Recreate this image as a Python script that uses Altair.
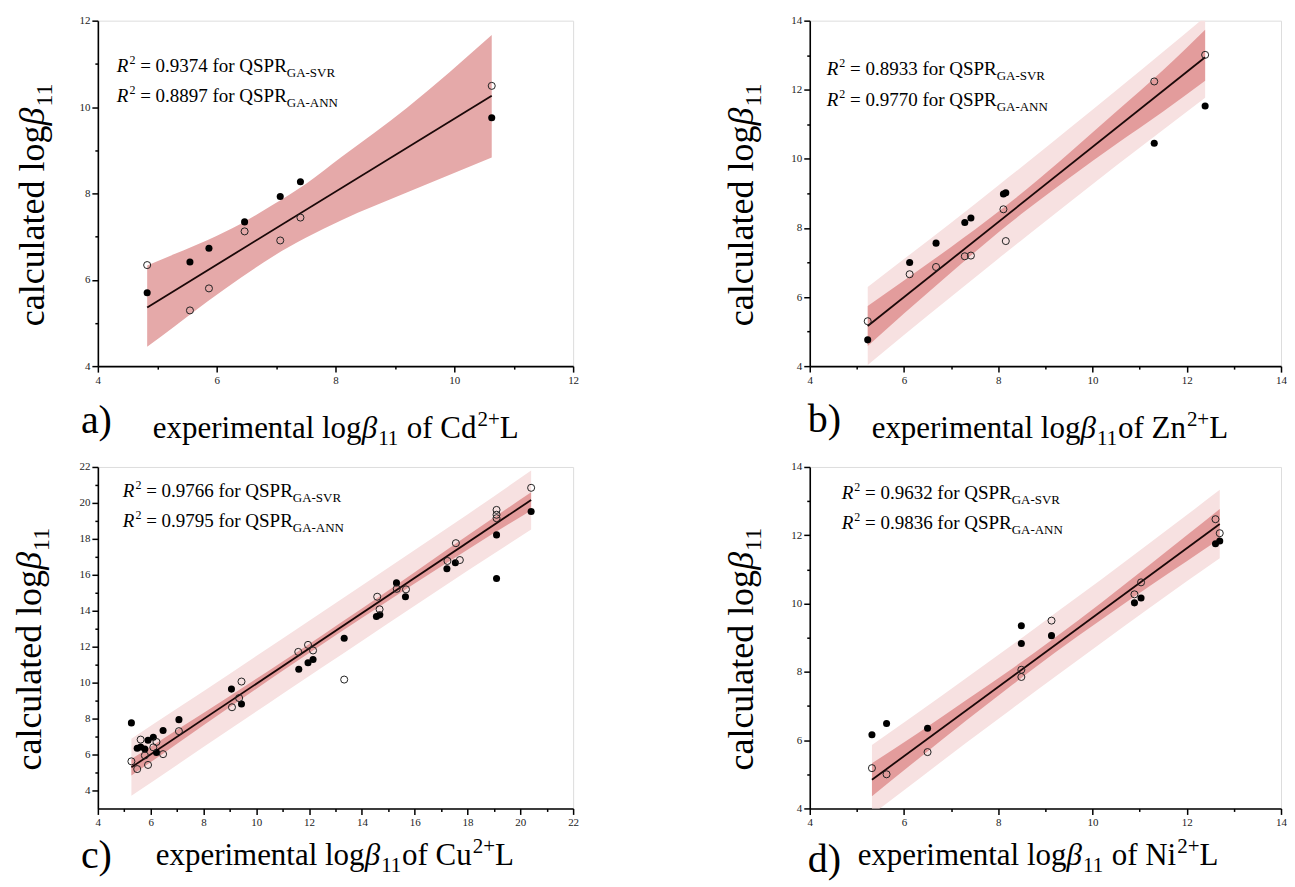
import altair as alt
import pandas as pd

# ---------------- data ----------------
# a) Cd2+
a_open_x = [4.83, 5.55, 5.87, 6.47, 7.07, 7.41, 10.63]
a_open_y = [6.34, 5.29, 5.80, 7.12, 6.91, 7.44, 10.49]
a_fill_x = [4.83, 5.55, 5.87, 6.47, 7.07, 7.41, 10.63]
a_fill_y = [5.70, 6.41, 6.73, 7.34, 7.93, 8.27, 9.75]
a_band_x = [4.83, 5.3, 5.85, 6.4, 6.96, 7.5, 8.1, 9.2, 10.63]
a_band_lo = [4.45, 4.93, 5.50, 6.04, 6.55, 6.97, 7.38, 8.02, 8.83]
a_band_hi = [6.33, 6.60, 6.92, 7.29, 7.75, 8.22, 8.84, 9.98, 11.67]
a_fit_x = [4.83, 10.63]
a_fit_y = [5.36, 10.26]

# b) Zn2+
b_open_x = [5.23, 6.12, 6.68, 7.29, 7.42, 8.11, 8.16, 11.31, 12.39]
b_open_y = [5.30, 6.66, 6.87, 7.18, 7.20, 8.54, 7.62, 12.24, 13.01]
b_fill_x = [5.23, 6.12, 6.68, 7.29, 7.42, 8.11, 8.16, 11.31, 12.39]
b_fill_y = [4.76, 7.00, 7.56, 8.16, 8.29, 8.98, 9.02, 10.45, 11.53]
b_band_x = [5.23, 6.0, 7.0, 8.0, 8.6, 9.5, 10.5, 11.5, 12.39]
b_dark_lo = [4.58, 5.52, 6.71, 7.87, 8.52, 9.44, 10.42, 11.37, 12.26]
b_dark_hi = [5.74, 6.48, 7.45, 8.47, 9.12, 10.16, 11.36, 12.57, 13.74]
b_light_lo = [4.03, 4.90, 6.01, 7.11, 7.76, 8.73, 9.80, 10.84, 11.77]
b_light_hi = [6.29, 7.10, 8.15, 9.23, 9.88, 10.87, 11.98, 13.10, 14.11]
b_fit_x = [5.23, 12.39]
b_fit_y = [5.16, 12.94]

# c) Cu2+
c_open_x = [5.27, 5.49, 5.62, 5.78, 5.90, 6.10, 6.22, 6.47, 7.07, 9.08, 9.35, 9.44,
            11.59, 11.96, 12.15, 13.33, 14.58, 14.67, 15.32, 15.67, 17.24, 17.56,
            17.71, 19.10, 19.10, 19.10, 20.41]
c_open_y = [5.62, 5.19, 6.83, 5.95, 5.42, 6.40, 6.70, 6.02, 7.30, 8.63, 9.14, 10.06,
            11.71, 12.10, 11.79, 10.17, 14.78, 14.08, 15.22, 15.19, 16.77, 17.76,
            16.82, 19.61, 19.34, 19.15, 20.84]
c_fill_x = [5.27, 5.49, 5.62, 5.78, 5.90, 6.10, 6.22, 6.47, 7.07, 9.06, 9.44, 11.61,
            11.96, 12.15, 13.33, 14.55, 14.68, 15.31, 15.65, 17.22, 17.54, 19.10,
            19.10, 20.41]
c_fill_y = [7.76, 6.35, 6.42, 6.30, 6.79, 6.96, 6.11, 7.34, 7.94, 9.64, 8.81, 10.74,
            11.11, 11.29, 12.47, 13.68, 13.77, 15.55, 14.78, 16.34, 16.67, 18.22,
            15.79, 19.52]
c_band_x = [5.27, 7, 9, 11, 12.5, 14, 16, 18, 20.41]
c_dark_lo = [4.83, 6.60, 8.64, 10.66, 12.14, 13.60, 15.52, 17.40, 19.58]
c_dark_hi = [5.75, 7.38, 9.26, 11.18, 12.64, 14.12, 16.14, 18.18, 20.60]
c_light_lo = [3.70, 5.42, 7.40, 9.38, 10.85, 12.32, 14.28, 16.22, 18.52]
c_light_hi = [6.88, 8.56, 10.50, 12.46, 13.93, 15.40, 17.38, 19.36, 21.80]
c_fit_x = [5.27, 20.41]
c_fit_y = [5.29, 20.16]

# d) Ni2+
d_open_x = [5.32, 5.63, 6.50, 8.49, 8.49, 9.13, 10.89, 11.03, 12.61, 12.70]
d_open_y = [5.18, 5.00, 5.65, 8.06, 7.85, 9.50, 10.27, 10.62, 12.47, 12.06]
d_fill_x = [5.32, 5.63, 6.50, 8.49, 8.49, 9.13, 10.89, 11.03, 12.61, 12.70]
d_fill_y = [6.16, 6.49, 6.35, 9.35, 8.83, 9.06, 10.02, 10.16, 11.75, 11.83]
d_band_x = [5.32, 6.3, 7.3, 8.3, 9.2, 10.2, 11.2, 12.0, 12.70]
d_dark_lo = [4.36, 5.45, 6.55, 7.62, 8.56, 9.54, 10.50, 11.24, 11.89]
d_dark_hi = [5.32, 6.21, 7.15, 8.10, 9.00, 10.04, 11.12, 12.00, 12.77]
d_light_lo = [3.82, 4.85, 5.90, 6.93, 7.85, 8.86, 9.86, 10.65, 11.33]
d_light_hi = [5.86, 6.81, 7.80, 8.79, 9.71, 10.72, 11.76, 12.59, 13.33]
d_fit_x = [5.32, 12.70]
d_fit_y = [4.84, 12.33]

r2_svr = ["0.9374", "0.8933", "0.9766", "0.9632"]
r2_ann = ["0.8897", "0.9770", "0.9795", "0.9836"]
metals = ["Cd", "Zn", "Cu", "Ni"]
of_words = [" of ", "of ", "of ", " of "]
panel_tags = ["a)", "b)", "c)", "d)"]

# ---------------- styling helpers ----------------
FONT = "Liberation Serif"
W = {' ': 250, 'a': 444, 'b': 500, 'c': 444, 'd': 500, 'e': 444, 'f': 333, 'g': 500,
     'i': 278, 'l': 278, 'm': 778, 'n': 500, 'o': 500, 'p': 500, 'r': 333, 't': 278,
     'u': 500, 'x': 500, 'A': 722, 'C': 667, 'G': 722, 'L': 611, 'N': 722, 'P': 556,
     'Q': 722, 'R': 667, 'S': 556, 'V': 722, 'Z': 611, '-': 333, '=': 564, '.': 250,
     '+': 564, ')': 333}
WI = {'R': 611, 'β': 500}


def tw(s, size, italic=False):
    tab = WI if italic else W
    return sum(tab.get(ch, W.get(ch, 500)) for ch in s) * size / 1000.0


DUMMY = pd.DataFrame({"d": [0]})


def rich(pieces, x0, y0, rotate=False):
    layers = []
    off = 0.0
    for text, size, italic, shift, gap in pieces:
        lead = len(text) - len(text.lstrip(" "))
        off += gap + lead * 250 * size / 1000.0
        text = text.strip(" ")
        if rotate:
            px, py, ang = x0 + shift, y0 - off, 270
        else:
            px, py, ang = x0 + off, y0 + shift, 0
        kw = dict(text=text, font=FONT, fontSize=size, align="left",
                  baseline="alphabetic", color="black", angle=ang)
        if italic:
            kw["fontStyle"] = "italic"
        layers.append(alt.Chart(DUMMY).mark_text(**kw).encode(
            x=alt.value(px), y=alt.value(py)))
        off += tw(text, size, italic)
    return layers


def make_axis(vals):
    return alt.Axis(values=vals, title=None, grid=False,
                    labelExpr="datum.value % 2 === 0 ? datum.label : ''",
                    tickSize={"condition": {"test": "datum.value % 2 === 0", "value": 6},
                              "value": 3},
                    labelFont=FONT, labelFontSize=11, labelColor="#222",
                    labelPadding=2, labelFlush=False, labelOverlap=False,
                    domainColor="black", domainWidth=1.6,
                    tickColor="black", tickWidth=1.5)


def panel(i, w, h, xdom, ydom, xvals, yvals, open_x, open_y, fill_x, fill_y,
          band_x, dark_lo, dark_hi, light_lo, light_hi, fit_x, fit_y, dark_color,
          pos, anchor=False):
    xs = alt.Scale(domain=xdom, nice=False, zero=False)
    ys = alt.Scale(domain=ydom, nice=False, zero=False)
    xax = make_axis(xvals)
    yax = make_axis(yvals)
    X = alt.X("x:Q", scale=xs, axis=xax)
    layers = []
    if light_lo is not None:
        dfl = pd.DataFrame({"x": band_x, "lo": light_lo, "hi": light_hi})
        layers.append(alt.Chart(dfl).mark_area(color="#f7e1e1", opacity=1, clip=True,
                                               orient="vertical",
                                               interpolate="monotone").encode(
            x=X, y=alt.Y("lo:Q", scale=ys, axis=yax), y2="hi:Q"))
    dfd = pd.DataFrame({"x": band_x, "lo": dark_lo, "hi": dark_hi})
    layers.append(alt.Chart(dfd).mark_area(color=dark_color, opacity=1, clip=True,
                                           orient="vertical",
                                           interpolate="monotone").encode(
        x=X, y=alt.Y("lo:Q", scale=ys, axis=yax), y2="hi:Q"))
    dff = pd.DataFrame({"x": fit_x, "y": fit_y})
    layers.append(alt.Chart(dff).mark_line(color="#1a0808", strokeWidth=1.8).encode(
        x=X, y=alt.Y("y:Q", scale=ys, axis=yax)))
    dfp = pd.DataFrame({"x": fill_x, "y": fill_y})
    layers.append(alt.Chart(dfp).mark_point(filled=True, size=50, color="black",
                                            opacity=1).encode(
        x=X, y=alt.Y("y:Q", scale=ys, axis=yax)))
    dfo = pd.DataFrame({"x": open_x, "y": open_y})
    layers.append(alt.Chart(dfo).mark_point(filled=False, size=50, color="#222",
                                            strokeWidth=1, opacity=1).encode(
        x=X, y=alt.Y("y:Q", scale=ys, axis=yax)))

    # R^2 annotations
    rx, ry1, ry2 = pos["r2"]
    for val, sub, yy in ((r2_svr[i], "GA-SVR", ry1), (r2_ann[i], "GA-ANN", ry2)):
        layers += rich([("R", 19, True, 0, 0), ("2", 12, False, -8, 1),
                        (" = " + val + " for QSPR", 19, False, 0, 0),
                        (sub, 13, False, 5, 0)], rx, yy)
    # y title
    yx, yy0 = pos["ytitle"]
    layers += rich([("calculated log", 36, False, 0, 0), ("β", 36, True, 0, 0),
                    ("11", 24, False, 8, 1)], yx, yy0, rotate=True)
    # x title
    xx, xy = pos["xtitle"]
    layers += rich([("experimental log", 31, False, 0, 0), ("β", 31, True, 0, 0),
                    ("11", 21, False, 7, 1), (of_words[i] + metals[i], 31, False, 0, 0),
                    ("2+", 21, False, -12, 1), ("L", 31, False, 0, 0)], xx, xy)
    # panel tag
    lx, ly = pos["tag"]
    layers += rich([(panel_tags[i], 40, False, 0, 0)], lx, ly)

    if anchor:
        # white layout anchor fixing the left edge of the whole figure
        layers.append(alt.Chart(DUMMY).mark_rule(color="white", strokeWidth=1).encode(
            x=alt.value(-88.5), y=alt.value(0), y2=alt.value(10)))

    return alt.layer(*layers).properties(width=w, height=h)


pa = panel(0, 476, 346, [4, 12], [4, 12], list(range(4, 13)), list(range(4, 13)),
           a_open_x, a_open_y, a_fill_x, a_fill_y, a_band_x, a_band_lo, a_band_hi,
           None, None, a_fit_x, a_fit_y, "#e5a9a9",
           {"r2": (19, 51, 81), "ytitle": (-54, 306), "xtitle": (55, 418),
            "tag": (-17, 413)}, anchor=True)
pb = panel(1, 472, 346, [4, 14], [4, 14], list(range(4, 15)), list(range(4, 15)),
           b_open_x, b_open_y, b_fill_x, b_fill_y, b_band_x, b_dark_lo, b_dark_hi,
           b_light_lo, b_light_hi, b_fit_x, b_fit_y, "#e39c9c",
           {"r2": (17, 54, 85), "ytitle": (-57, 306), "xtitle": (62, 418),
            "tag": (-2, 412)})
pc = panel(2, 476, 342, [4, 22], [3, 22], list(range(4, 23)), list(range(4, 23)),
           c_open_x, c_open_y, c_fill_x, c_fill_y, c_band_x, c_dark_lo, c_dark_hi,
           c_light_lo, c_light_hi, c_fit_x, c_fit_y, "#e39c9c",
           {"r2": (25, 30, 60), "ytitle": (-57, 304), "xtitle": (58, 399),
            "tag": (-17, 402)})
pd_ = panel(3, 472, 342, [4, 14], [4, 14], list(range(4, 15)), list(range(4, 15)),
            d_open_x, d_open_y, d_fill_x, d_fill_y, d_band_x, d_dark_lo, d_dark_hi,
            d_light_lo, d_light_hi, d_fit_x, d_fit_y, "#e39c9c",
            {"r2": (32, 32, 62), "ytitle": (-57, 304), "xtitle": (48, 399),
             "tag": (-2, 406)})

chart = alt.concat(pa, pb, pc, pd_, columns=2, spacing={"row": 101, "column": 237},
                   bounds="flush",
                   padding={"left": 0, "top": 5, "right": 0, "bottom": 0}
                   ).configure_view(strokeWidth=0).configure(background="white")

chart.save("out.html", embed_options={"renderer": "svg", "actions": False})
